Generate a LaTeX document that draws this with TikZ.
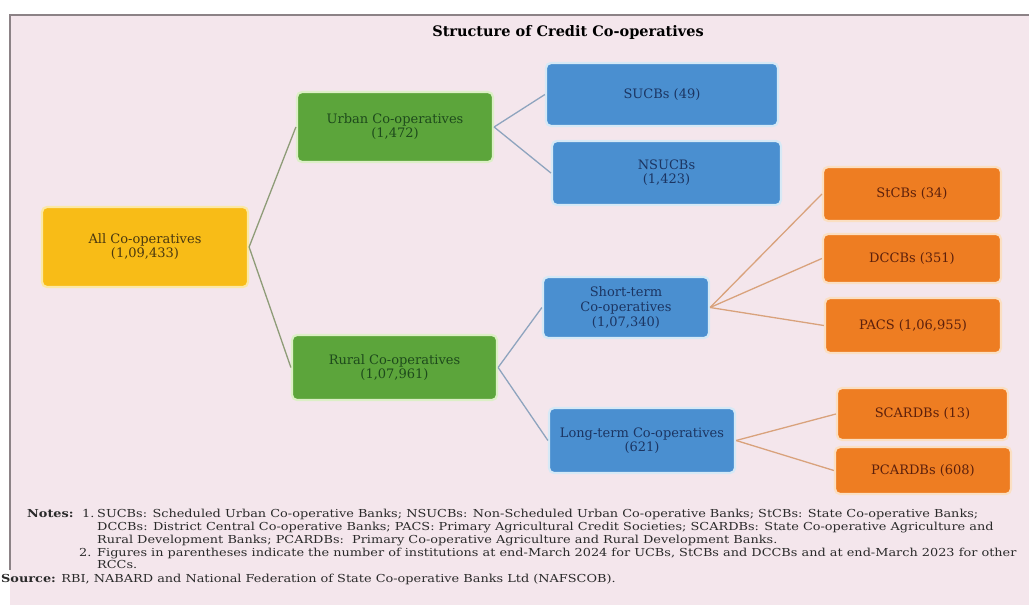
\documentclass[tikz,border=0pt]{standalone}
\usepackage{fontspec}
\setmainfont{DejaVu Serif}
\newfontfamily\notefont[FakeStretch=1.17]{DejaVu Serif}
\begin{document}
\begin{tikzpicture}[x=1pt,y=-1pt,
  box/.style={rectangle, rounded corners=5pt, line width=2.2pt, align=center, inner sep=2pt,
    font=\fontsize{13}{14}\selectfont},
  ybox/.style={box, fill=ylw, draw=ylwedge, text=ylwtext},
  gbox/.style={box, fill=grn, draw=grnedge, text=grntext},
  bbox/.style={box, fill=blu, draw=bluedge, text=blutext},
  obox/.style={box, fill=org, draw=orgedge, text=orgtext},
  glink/.style={draw=glinkc, line width=1.3pt},
  blink/.style={draw=blinkc, line width=1.3pt},
  olink/.style={draw=olinkc, line width=1.3pt},
  notes/.style={inner sep=0pt, anchor=base west, text=notec, font=\notefont\fontsize{11}{12}\selectfont}
]
\definecolor{bgpink}{HTML}{F4E6EC}
\definecolor{framec}{HTML}{8C8286}
\definecolor{ylw}{HTML}{F8BC17}
\definecolor{ylwedge}{HTML}{FBE8A6}
\definecolor{ylwtext}{HTML}{4A3810}
\definecolor{grn}{HTML}{5CA53B}
\definecolor{grnedge}{HTML}{DCEFC6}
\definecolor{grntext}{HTML}{1E4A1C}
\definecolor{blu}{HTML}{4A8FD0}
\definecolor{bluedge}{HTML}{D6E9F6}
\definecolor{blutext}{HTML}{1C3562}
\definecolor{org}{HTML}{EE7D22}
\definecolor{orgedge}{HTML}{FBDFC2}
\definecolor{orgtext}{HTML}{5C200C}
\definecolor{glinkc}{HTML}{8E9C78}
\definecolor{blinkc}{HTML}{8EA4BE}
\definecolor{olinkc}{HTML}{D9A27C}
\definecolor{notec}{HTML}{2A2A2A}

\useasboundingbox (0,0) rectangle (1029,605);
\clip (0,0) rectangle (1029,605);
\fill[white] (0,0) rectangle (1029,605);
\fill[bgpink] (10,15) rectangle (1029,605);
\draw[framec, line width=1.8pt] (10,570) -- (10,15) -- (1029,15);

\node[font=\fontsize{14.5}{16}\bfseries, inner sep=0pt] (title) at (568,32) {Structure of Credit Co-operatives};

\node[ybox, minimum width=206, minimum height=80] (all) at (145,247) {All Co-operatives\\(1,09,433)};
\node[gbox, minimum width=196, minimum height=70] (urban) at (395,127) {Urban Co-operatives\\(1,472)};
\node[gbox, minimum width=205, minimum height=65] (rural) at (394.5,367.5) {Rural Co-operatives\\(1,07,961)};
\node[bbox, minimum width=232, minimum height=63] (sucbs) at (662,94.5) {SUCBs (49)};
\node[bbox, minimum width=229, minimum height=64] (nsucbs) at (666.5,173) {NSUCBs\\(1,423)};
\node[bbox, minimum width=166, minimum height=61, font=\fontsize{13}{15}\selectfont] (short) at (626,307.5) {Short-term\\Co-operatives\\(1,07,340)};
\node[bbox, minimum width=186, minimum height=65] (long) at (642,440.5) {Long-term Co-operatives\\(621)};
\node[obox, minimum width=178, minimum height=54] (stcbs) at (912,194) {StCBs (34)};
\node[obox, minimum width=178, minimum height=49] (dccbs) at (912,258.5) {DCCBs (351)};
\node[obox, minimum width=176, minimum height=55] (pacs) at (913,325.5) {PACS (1,06,955)};
\node[obox, minimum width=171, minimum height=52] (scardbs) at (922.5,414) {SCARDBs (13)};
\node[obox, minimum width=176, minimum height=47] (pcardbs) at (923,470.5) {PCARDBs (608)};

\draw[glink] (all.east) -- (urban.west);
\draw[glink] (all.east) -- (rural.west);
\draw[blink] (urban.east) -- (sucbs.west);
\draw[blink] (urban.east) -- (nsucbs.west);
\draw[blink] (rural.east) -- (short.west);
\draw[blink] (rural.east) -- (long.west);
\draw[olink] (short.east) -- (stcbs.west);
\draw[olink] (short.east) -- (dccbs.west);
\draw[olink] (short.east) -- (pacs.west);
\draw[olink] (long.east) -- (scardbs.west);
\draw[olink] (long.east) -- (pcardbs.west);

\node[notes] (nlab) at (27,517) {\textbf{Notes:}};
\node[notes] (n1num) at (82,517) {1.};
\node[notes] (n1a) at (97,517) {SUCBs: Scheduled Urban Co-operative Banks; NSUCBs: Non-Scheduled Urban Co-operative Banks; StCBs: State Co-operative Banks;};
\node[notes] (n1b) at (97,530) {DCCBs: District Central Co-operative Banks; PACS: Primary Agricultural Credit Societies; SCARDBs: State Co-operative Agriculture and};
\node[notes] (n1c) at (97,543) {Rural Development Banks; PCARDBs:\ \ Primary Co-operative Agriculture and Rural Development Banks.};
\node[notes] (n2num) at (79,556) {2.};
\node[notes] (n2a) at (97,556) {Figures in parentheses indicate the number of institutions at end-March 2024 for UCBs, StCBs and DCCBs and at end-March 2023 for other};
\node[notes] (n2b) at (97,568) {RCCs.};
\node[notes] (src) at (1,582) {\textbf{Source:} RBI, NABARD and National Federation of State Co-operative Banks Ltd (NAFSCOB).};
\end{tikzpicture}
\end{document}
